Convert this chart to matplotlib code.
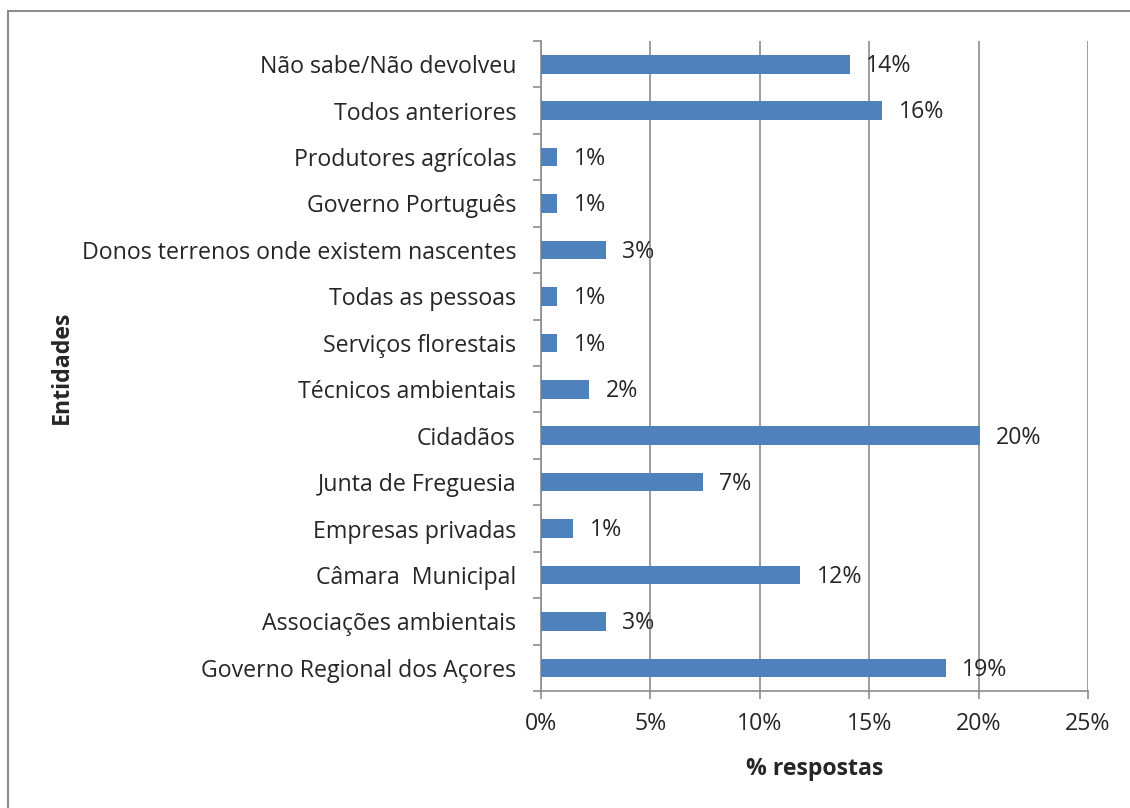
import matplotlib
matplotlib.use('Agg')
import matplotlib.pyplot as plt
from matplotlib.patches import Rectangle

plt.rcParams['font.family'] = ['Open Sans', 'DejaVu Sans']

# entidades, de baixo para cima
entidades = ['Governo Regional dos Açores', 'Associações ambientais',
             'Câmara  Municipal', 'Empresas privadas', 'Junta de Freguesia',
             'Cidadãos', 'Técnicos ambientais', 'Serviços florestais',
             'Todas as pessoas', 'Donos terrenos onde existem nascentes',
             'Governo Português', 'Produtores agrícolas', 'Todos anteriores',
             'Não sabe/Não devolveu']
valores = [18.5, 2.95, 11.85, 1.47, 7.4, 20.05, 2.2, 0.74, 0.74, 2.95,
           0.74, 0.74, 15.6, 14.1]
rotulos = ['19%', '3%', '12%', '1%', '7%', '20%', '2%', '1%', '1%', '3%',
           '1%', '1%', '16%', '14%']
xticks = [0, 5, 10, 15, 20, 25]

cor = '#4f81bd'
cinza = '#8c8c8c'
fs = 16.7

fig = plt.figure(figsize=(11.3, 8.08), dpi=100)
ax = fig.add_axes([541 / 1130, 1 - 691 / 808, 547 / 1130, 650 / 808])

pos = range(len(entidades))
ax.barh(pos, valores, height=0.4, color=cor, zorder=3)
for y, v, r in zip(pos, valores, rotulos):
    ax.text(v + 0.75, y - 0.04, r, va='center', ha='left', fontsize=fs,
            color='#262626', zorder=4)

ax.set_xlim(0, 25)
ax.set_ylim(-0.5, len(entidades) - 0.5)
ax.set_xticks(xticks)
ax.set_xticklabels([f'{t}%' for t in xticks], fontsize=fs, color='#262626')
ax.set_yticks(list(pos))
ax.set_yticklabels(entidades, fontsize=fs, color='#262626')
ax.set_yticks([i - 0.5 for i in range(len(entidades) + 1)], minor=True)

ax.tick_params(axis='y', which='major', length=0, pad=18)
ax.tick_params(axis='y', which='minor', length=6, color=cinza, width=1.2)
ax.tick_params(axis='x', length=6, color=cinza, width=1.2, pad=9)

ax.grid(axis='x', color=cinza, linewidth=1.2, zorder=0)
for s in ['top', 'right']:
    ax.spines[s].set_visible(False)
for s in ['left', 'bottom']:
    ax.spines[s].set_color(cinza)
    ax.spines[s].set_linewidth(1.2)

ax.set_xlabel('% respostas', fontsize=fs, fontweight='bold', labelpad=15,
              color='#262626')
fig.text(62 / 1130, 1 - 367 / 808, 'Entidades', rotation=90, fontsize=fs,
         fontweight='bold', ha='center', va='center', color='#262626')

# moldura exterior do grafico
fig.patches.append(Rectangle((8 / 1130, -0.1), 1.2, 1 - 11 / 808 + 0.1,
                             transform=fig.transFigure, fill=False,
                             edgecolor=cinza, linewidth=1.5))

fig.savefig('out.png', dpi=100)
